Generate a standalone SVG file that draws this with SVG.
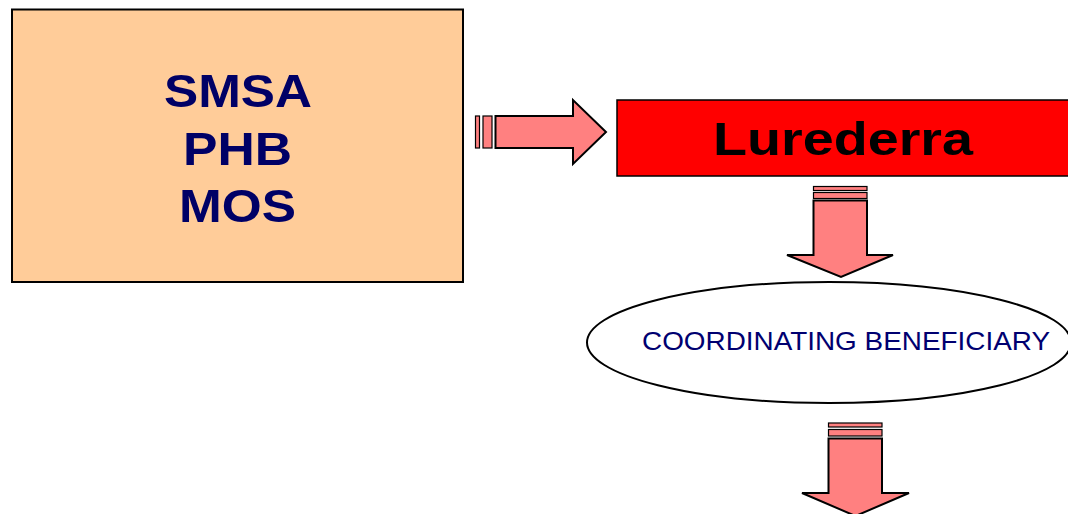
<svg xmlns="http://www.w3.org/2000/svg" width="1068" height="514" viewBox="0 0 1068 514">
<style>
.arrow{fill:#FF8080;stroke:#000;stroke-width:2;stroke-linejoin:miter}
.stripe{fill:#FF8080;stroke:#000;stroke-width:1.2}
.big{font-family:"Liberation Sans",Arial,sans-serif;font-weight:bold;fill:#000066}
</style>
<rect width="1068" height="514" fill="#fff"/>
<g id="node-smsa">
<rect x="12" y="9.5" width="451" height="272.5" fill="#FFCC99" stroke="#000" stroke-width="2"/>
<text class="big" x="164" y="107" font-size="47" textLength="148" lengthAdjust="spacingAndGlyphs">SMSA</text>
<text class="big" x="183" y="165" font-size="47" textLength="109" lengthAdjust="spacingAndGlyphs">PHB</text>
<text class="big" x="179" y="222" font-size="47" textLength="117" lengthAdjust="spacingAndGlyphs">MOS</text>
</g>
<g id="node-lurederra">
<rect x="617" y="100" width="455" height="76" fill="#FF0000" stroke="#000" stroke-width="1.5"/>
<text x="713" y="155" font-family="Liberation Sans,Arial,sans-serif" font-weight="bold" font-size="46" textLength="260" lengthAdjust="spacingAndGlyphs" fill="#000">Lurederra</text>
</g>
<g id="node-coordinating">
<ellipse cx="829" cy="342.5" rx="242" ry="60.5" fill="#fff" stroke="#000" stroke-width="2"/>
<text x="642" y="350" font-family="Liberation Sans,Arial,sans-serif" font-size="26" textLength="408" lengthAdjust="spacingAndGlyphs" fill="#000070">COORDINATING BENEFICIARY</text>
</g>
<g id="connectors">
<g id="arrow-right">
<rect class="stripe" x="475.5" y="116" width="4" height="32"/>
<rect class="stripe" x="483" y="116" width="9" height="32"/>
<polygon class="arrow" points="495.5,116 573,116 573,100 606,132 573,164 573,148 495.5,148"/>
</g>
<g id="arrow-down-1">
<rect class="stripe" x="813.5" y="186.5" width="53.5" height="4"/>
<rect class="stripe" x="813.5" y="192.5" width="53.5" height="6"/>
<polygon class="arrow" points="813.5,200.5 867,200.5 867,255 893,255 841,277 787,255 813.5,255"/>
</g>
<g id="arrow-down-2">
<rect class="stripe" x="828.5" y="423" width="53.5" height="4"/>
<rect class="stripe" x="828.5" y="429.5" width="53.5" height="6.5"/>
<polygon class="arrow" points="828.5,438.5 882,438.5 882,493 909,493 855.5,516 802,493 828.5,493"/>
</g>
</g>
</svg>
